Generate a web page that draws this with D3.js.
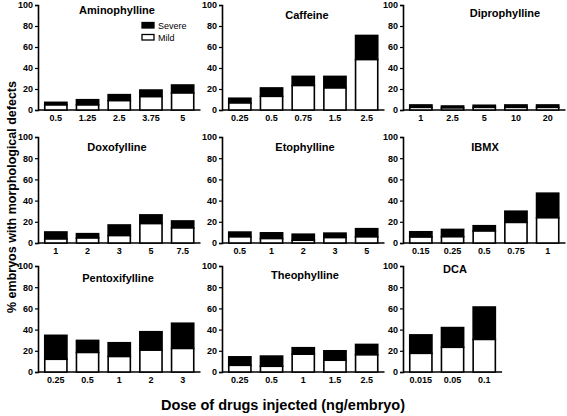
<!DOCTYPE html>
<html><head><meta charset="utf-8">
<script src="https://cdn.jsdelivr.net/npm/d3@7"></script>
<style>body{margin:0;background:#fff}svg{display:block;font-family:"Liberation Sans",Arial,sans-serif}</style>
</head><body><svg id="c" width="567" height="416"></svg>
<script>
// ---- data ----
const titles = ["Aminophylline","Caffeine","Diprophylline","Doxofylline","Etophylline","IBMX","Pentoxifylline","Theophylline","DCA"];
const doses = [
  ["0.5","1.25","2.5","3.75","5"],
  ["0.25","0.5","0.75","1.5","2.5"],
  ["1","2.5","5","10","20"],
  ["1","2","3","5","7.5"],
  ["0.5","1","2","3","5"],
  ["0.15","0.25","0.5","0.75","1"],
  ["0.25","0.5","1","2","3"],
  ["0.25","0.5","1","1.5","2.5"],
  ["0.015","0.05","0.1"]
];
const mild = [
  [4.8,4.8,8.9,12.7,16.2],
  [6.7,13,23.3,21,48],
  [2.5,2,2.5,2.5,2.5],
  [3.8,4.7,7,18.3,14.2],
  [5.8,4.2,2.6,5.1,5.8],
  [5.6,5.9,11.3,19.4,23.8],
  [12,18.4,14.6,20.6,22.2],
  [6.3,5.4,16.8,11.1,16.2],
  [17.6,23.3,30.7]
];
const severe = [
  [2.5,5.0,5.7,6.3,7.6],
  [4.5,8,8.7,11,23],
  [2.3,1.8,2,2.3,2.3],
  [6.6,4.1,10,8.2,6.6],
  [4.5,5.4,5.7,4.2,7.7],
  [5,6.9,5,10.6,23.2],
  [22.6,11.4,13,17.4,23.8],
  [8,9.6,6.1,8.9,9.8],
  [17.4,18.6,30.6]
];
const yTicks = [0,20,40,60,80,100];
const legendLabels = ["Severe","Mild"];

// ---- layout ----
const colX = [38,222,403];
const rowTop = [5,137,266], rowBot = [110,243,372];
const step = 31.7;
const titlePos = [[117,14],[307,19],[505,17],[117,151],[305,151],[485,151],[118,282],[305,279],[455,273]];
const FONT = "Liberation Sans, Arial, sans-serif";

const svg = d3.select("#c");
titles.forEach((t,i)=>{
  const r = Math.floor(i/3), c = i%3;
  const x0 = colX[c];
  const n = doses[i].length;
  const y = d3.scaleLinear().domain([0,100]).range([rowBot[r], rowTop[r]]);
  const x = d3.scaleBand().domain(doses[i]).range([x0+2, x0+2+step*n]).paddingInner(0.3).paddingOuter(0.15);
  const g = svg.append("g");
  const ya = g.append("g").attr("transform",`translate(${x0},0)`)
    .call(d3.axisLeft(y).tickValues(yTicks).tickSize(3).tickPadding(2));
  ya.select(".domain").attr("stroke-width",1.6);
  ya.selectAll(".tick line").attr("stroke-width",1.2);
  ya.selectAll("text").attr("font-size",9).attr("font-weight","bold").attr("font-family",FONT);
  const xa = g.append("g").attr("transform",`translate(0,${rowBot[r]})`)
    .call(d3.axisBottom(x).tickSize(0).tickPadding(5));
  xa.select(".domain").attr("d",`M${x0},0H${x0+4+step*n}`).attr("stroke-width",1.6);
  xa.selectAll("text").attr("font-size",9).attr("font-weight","bold").attr("font-family",FONT);
  doses[i].forEach((d,j)=>{
    const m = mild[i][j], s = severe[i][j];
    g.append("rect").attr("x",x(d)).attr("width",x.bandwidth())
      .attr("y",y(m+s)).attr("height",y(m)-y(m+s))
      .attr("fill","#000").attr("stroke","#000").attr("stroke-width",1.6);
    g.append("rect").attr("x",x(d)).attr("width",x.bandwidth())
      .attr("y",y(m)).attr("height",y(0)-y(m))
      .attr("fill","#fff").attr("stroke","#000").attr("stroke-width",1.6);
  });
  g.append("text").attr("x",titlePos[i][0]).attr("y",titlePos[i][1]).attr("text-anchor","middle")
    .attr("font-size",11).attr("font-weight","bold").text(t);
});
const lg = svg.append("g");
legendLabels.forEach((l,k)=>{
  lg.append("rect").attr("x",142).attr("y",22.5+k*12).attr("width",12).attr("height",5.5)
    .attr("fill",k===0?"#000":"#fff").attr("stroke","#000").attr("stroke-width",1.3);
  lg.append("text").attr("x",158).attr("y",28.5+k*12).attr("font-size",9).text(l);
});
svg.append("text").attr("transform","translate(16,197) rotate(-90)").attr("text-anchor","middle")
  .attr("font-size",12.5).attr("font-weight","bold").text("% embryos with morphological defects");
svg.append("text").attr("x",283).attr("y",410).attr("text-anchor","middle")
  .attr("font-size",14.5).attr("font-weight","bold").text("Dose of drugs injected (ng/embryo)");
</script></body></html>
